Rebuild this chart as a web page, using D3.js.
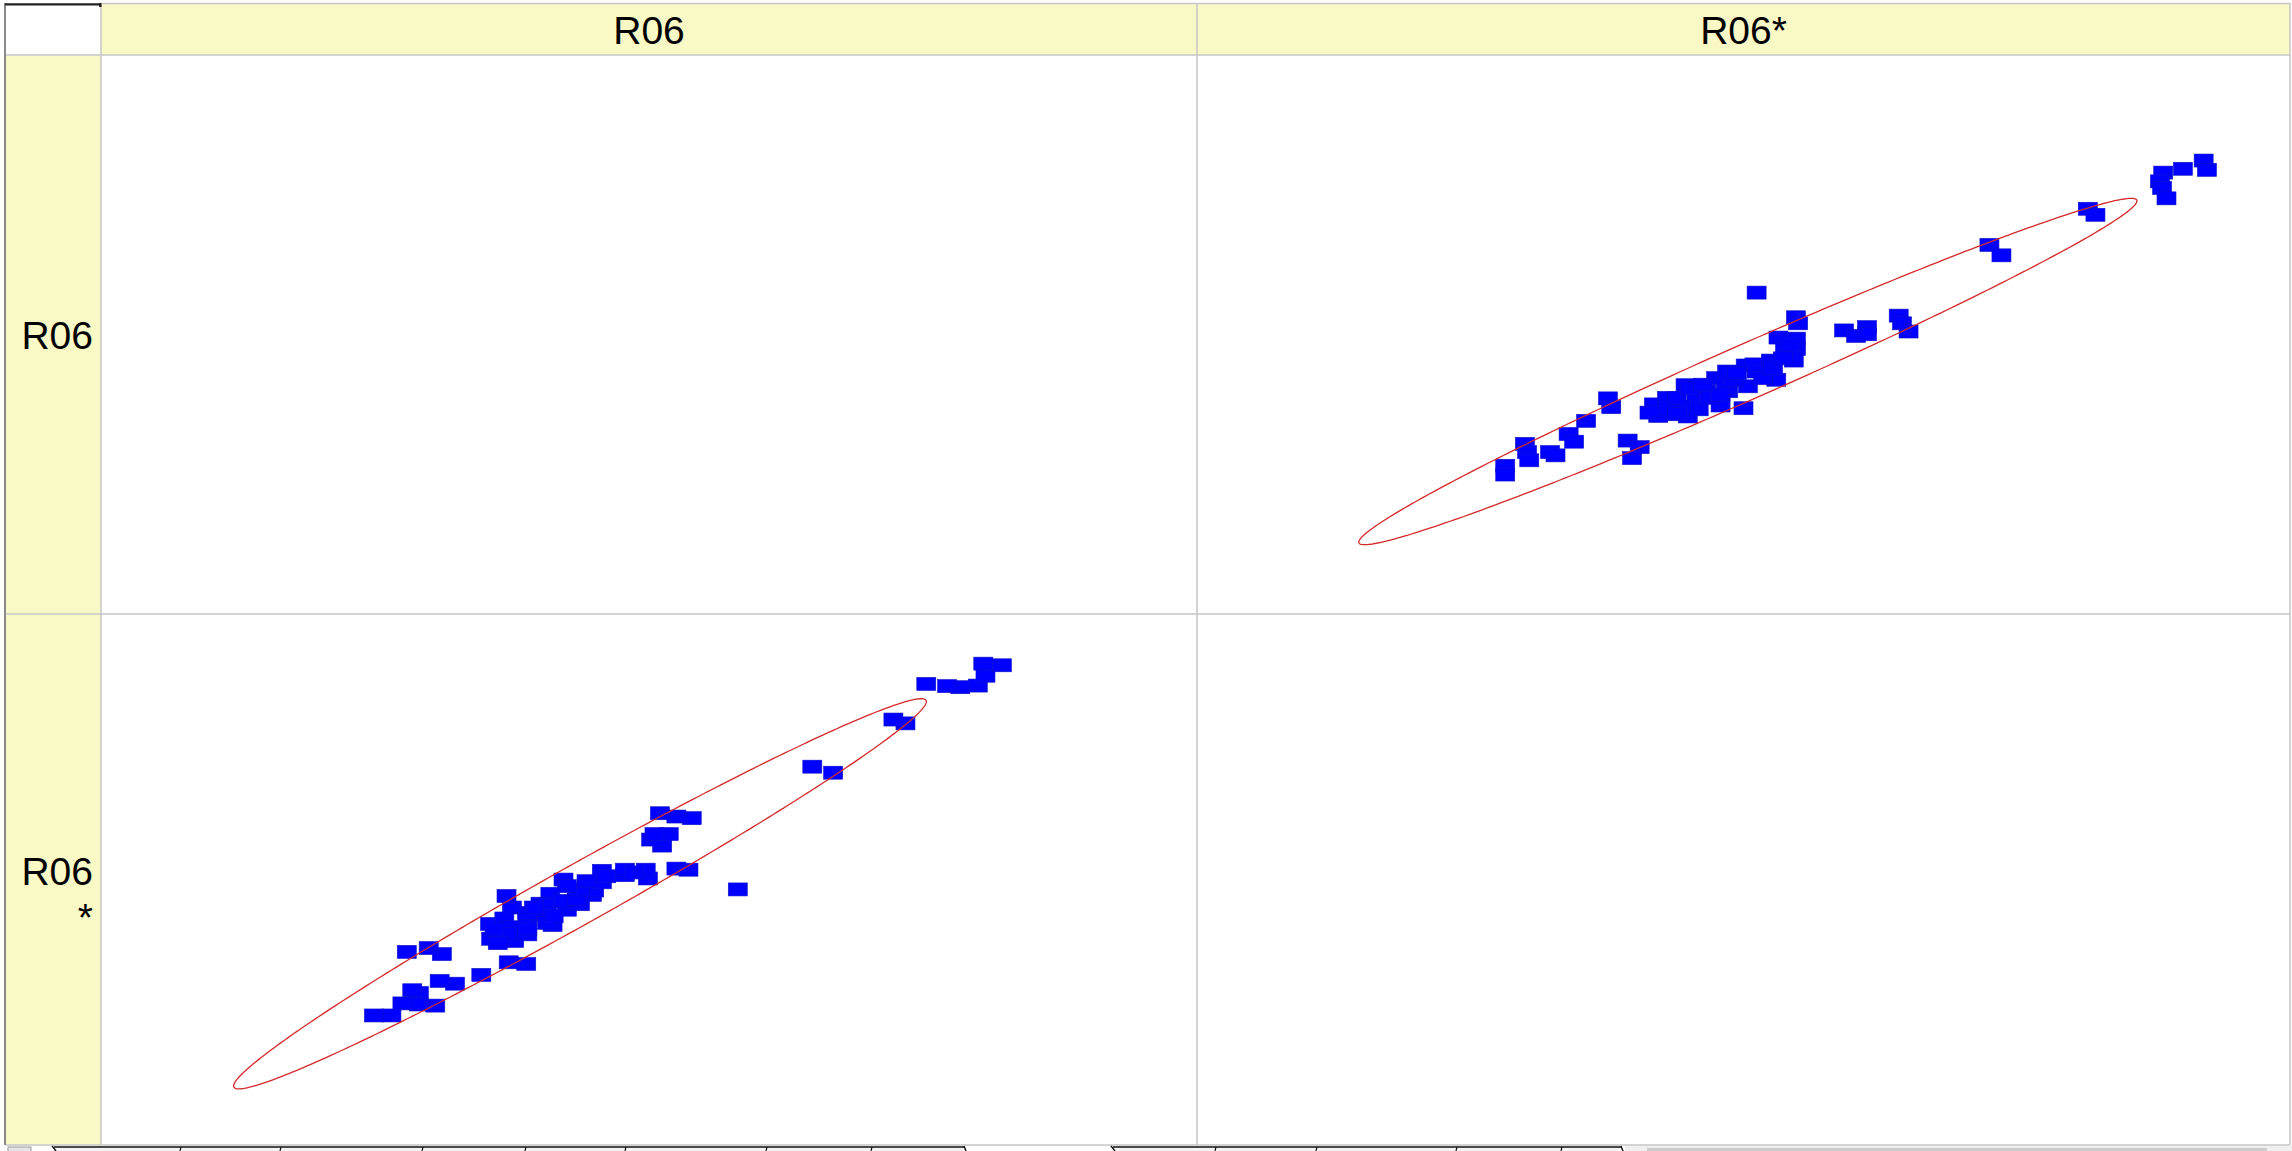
<!DOCTYPE html>
<html>
<head>
<meta charset="utf-8">
<script src="https://cdn.jsdelivr.net/npm/d3@7"></script>
<style>
  body { margin: 0; background: #fff; }
  svg { display: block; font-family: Arial, "Liberation Sans", sans-serif; }
</style>
</head>
<body>
<div id="chart"></div>
<script>
// variables of the scatter matrix
const variables = ["R06", "R06*"];

const r06 = [58.1, 53.6, 52.5, 51.2, 50.2, 51.8, 50.5, 53.9, 52.5, 51.0,
  49.9, 49.7, 47.8, 47.8, 45.7, 41.2, 42.5, 43.7, 44.8, 45.0,
  45.7, 41.0, 42.2, 40.1, 37.5, 37.7, 35.6, 38.9, 35.5, 38.9,
  40.1, 36.8, 37.0, 37.3, 40.7, 38.8, 37.2, 34.7, 32.3, 30.9,
  29.0, 28.4, 30.5, 29.0, 27.5, 26.5, 24.9, 31.1, 29.9, 27.9,
  66.8, 64.9, 73.4, 72.3, 80.0, 78.4, 77.2, 75.3, 80.7, 82.2, 80.5,
  37.1, 38.9, 40.7, 41.3, 38.9, 39.5, 42.2, 43.4, 43.7, 42.5,
  44.3, 46.1, 48.6, 35.9, 36.2];
const r06star = [51.2, 54.8, 55.0, 59.2, 60.3, 61.3, 61.3, 64.2, 64.5, 65.1,
  53.2, 54.8, 53.8, 54.8, 54.6, 44.7, 47.5, 48.5, 50.2, 51.0,
  52.5, 50.4, 53.0, 48.6, 47.9, 41.8, 42.2, 43.0, 44.9, 45.7,
  46.6, 45.9, 50.0, 44.3, 48.4, 37.6, 37.9, 35.6, 34.0, 34.5,
  32.3, 32.8, 30.0, 30.2, 30.4, 28.2, 28.2, 39.4, 40.5, 39.8,
  72.5, 73.6, 81.5, 82.2, 88.4, 88.1, 88.3, 88.7, 90.2, 92.1, 92.4,
  43.0, 43.9, 45.1, 46.3, 46.9, 47.9, 49.1, 49.4, 51.2, 51.8,
  52.7, 53.6, 54.3, 43.9, 41.4];

// confidence ellipse: centre, half extent and correlation (R06, R06*)
const ellipseCenter = [43.7, 50.4];
const ellipseRadius = [31.6, 35.6];
const ellipseCorr = 0.985;

const domain = [0, 100];

// ---- layout
const width = 2292, height = 1151;
const colEdges = [101, 1197, 2290];
const rowEdges = [55, 614, 1173];
const headerTop = 3;
const plotBottom = 1145;
const gridColor = "#c6c6c6";
const yellow = "#f9f9c6";

const values = [r06, r06star];

let svg = d3.select("#chart").append("svg")
    .attr("width", width)
    .attr("height", height);

svg.append("defs").append("clipPath")
    .attr("id", "matrixClip")
  .append("rect")
    .attr("x", colEdges[0])
    .attr("y", rowEdges[0])
    .attr("width", colEdges[2] - colEdges[0])
    .attr("height", plotBottom - rowEdges[0]);

// header row and label column
svg.append("rect")
    .attr("x", colEdges[0]).attr("y", headerTop)
    .attr("width", colEdges[2] - colEdges[0]).attr("height", rowEdges[0] - headerTop)
    .attr("fill", yellow);
svg.append("rect")
    .attr("x", 5).attr("y", rowEdges[0])
    .attr("width", colEdges[0] - 5).attr("height", plotBottom - rowEdges[0])
    .attr("fill", yellow);

// scales per column (x) and row (y)
let xScales = variables.map((v, j) =>
  d3.scaleLinear().domain(domain).range([colEdges[j], colEdges[j + 1]]));
let yScales = variables.map((v, i) =>
  d3.scaleLinear().domain(domain).range([rowEdges[i + 1] - 3, rowEdges[i] + 8]));

let plots = svg.append("g").attr("clip-path", "url(#matrixClip)");

variables.forEach(function(vy, i) {
  variables.forEach(function(vx, j) {
    if (i === j) return;
    let x = xScales[j], y = yScales[i];
    let cell = plots.append("g").attr("class", "cell");

    cell.selectAll("rect.pt")
        .data(d3.range(r06.length))
      .enter().append("rect")
        .attr("class", "pt")
        .attr("x", k => x(values[j][k]) - 9.5)
        .attr("y", k => y(values[i][k]) - 6.5)
        .attr("width", 19)
        .attr("height", 13)
        .attr("fill", "#0000ff")
        .attr("stroke", "#1010c8")
        .attr("stroke-width", 0.6);

    // ellipse in data space, then through the scales
    let s = Math.sqrt(1 - ellipseCorr * ellipseCorr);
    let pts = d3.range(0, 360, 1).map(function(deg) {
      let t = deg * Math.PI / 180;
      let e = [
        ellipseCenter[0] + ellipseRadius[0] * Math.cos(t),
        ellipseCenter[1] + ellipseRadius[1] * (ellipseCorr * Math.cos(t) + s * Math.sin(t))
      ];
      return [x(e[j]), y(e[i])];
    });
    cell.append("path")
        .attr("d", d3.line().curve(d3.curveLinearClosed)(pts))
        .attr("fill", "none")
        .attr("stroke", "#d42a2a")
        .attr("stroke-width", 1.3);
  });
});

// grid lines
let grid = svg.append("g").attr("stroke", gridColor).attr("stroke-width", 1.5);
colEdges.forEach(function(cx) {
  grid.append("line")
      .attr("x1", cx).attr("x2", cx)
      .attr("y1", headerTop).attr("y2", plotBottom);
});
grid.append("line")
    .attr("x1", colEdges[0]).attr("x2", colEdges[2])
    .attr("y1", headerTop + 0.5).attr("y2", headerTop + 0.5);
[rowEdges[0], rowEdges[1]].forEach(function(ry) {
  grid.append("line")
      .attr("x1", 5).attr("x2", colEdges[2])
      .attr("y1", ry).attr("y2", ry);
});
grid.append("line")
    .attr("x1", 5).attr("x2", colEdges[2])
    .attr("y1", plotBottom).attr("y2", plotBottom);

// outer left border and top-left corner mark
svg.append("line")
    .attr("x1", 5).attr("x2", 5)
    .attr("y1", headerTop).attr("y2", plotBottom)
    .attr("stroke", "#8a8a8a").attr("stroke-width", 2);
svg.append("line")
    .attr("x1", 5).attr("x2", 99)
    .attr("y1", 4.3).attr("y2", 4.3)
    .attr("stroke", "#222").attr("stroke-width", 2.2);
svg.append("rect")
    .attr("x", 99).attr("y", 3).attr("width", 2.5).attr("height", 4)
    .attr("fill", "#222");

// column headers
svg.selectAll("text.colhead")
    .data(variables)
  .enter().append("text")
    .attr("class", "colhead")
    .attr("x", (d, j) => (colEdges[j] + colEdges[j + 1]) / 2)
    .attr("y", 43.5)
    .attr("text-anchor", "middle")
    .attr("font-size", 39)
    .attr("fill", "#000")
    .text(d => d);

// row labels (wrapped to the narrow column)
variables.forEach(function(v, i) {
  let lines = v.length > 3 ? [v.slice(0, 3), v.slice(3)] : [v];
  let mid = (rowEdges[i] + rowEdges[i + 1]) / 2;
  let t = svg.append("text")
      .attr("text-anchor", "end")
      .attr("font-size", 39)
      .attr("fill", "#000");
  lines.forEach(function(line, n) {
    t.append("tspan")
        .attr("x", 93)
        .attr("y", mid - (lines.length - 1) * 23 + 14.5 + n * 46)
        .text(line);
  });
});

// sheet tab strip along the bottom edge
let tabs = svg.append("g");
tabs.append("rect")
    .attr("x", 0).attr("y", plotBottom + 1).attr("width", width).attr("height", 6)
    .attr("fill", "#ffffff");
tabs.append("rect")
    .attr("x", 8).attr("y", plotBottom + 2).attr("width", 23).attr("height", 6)
    .attr("fill", "#e4e4e4").attr("stroke", "#999");
[[54, 964, [181, 281, 423, 526, 626, 767, 872]],
 [1113, 1621, [1216, 1317, 1457, 1562]]].forEach(function(g) {
  tabs.append("rect")
      .attr("x", g[0]).attr("y", plotBottom + 2)
      .attr("width", g[1] - g[0]).attr("height", 6)
      .attr("fill", "#f3f3f3");
  tabs.append("line")
      .attr("x1", g[0]).attr("x2", g[1])
      .attr("y1", plotBottom + 2).attr("y2", plotBottom + 2)
      .attr("stroke", "#111").attr("stroke-width", 1.6);
  tabs.append("line")
      .attr("x1", g[0] - 2).attr("x2", g[0] + 2)
      .attr("y1", plotBottom + 1).attr("y2", height)
      .attr("stroke", "#111").attr("stroke-width", 1.4);
  tabs.append("line")
      .attr("x1", g[1]).attr("x2", g[1] + 2)
      .attr("y1", plotBottom + 1).attr("y2", height)
      .attr("stroke", "#111").attr("stroke-width", 1.4);
  g[2].forEach(function(dx) {
    tabs.append("line")
        .attr("x1", dx).attr("x2", dx - 1)
        .attr("y1", plotBottom + 2).attr("y2", height)
        .attr("stroke", "#111").attr("stroke-width", 1.2);
  });
});
tabs.append("rect")
    .attr("x", 1625).attr("y", plotBottom + 1).attr("width", width - 1625).attr("height", 6)
    .attr("fill", "#efefef");
tabs.append("rect")
    .attr("x", 1647).attr("y", plotBottom + 3).attr("width", 620).attr("height", 5)
    .attr("fill", "#cdcdcd");
</script>
</body>
</html>
